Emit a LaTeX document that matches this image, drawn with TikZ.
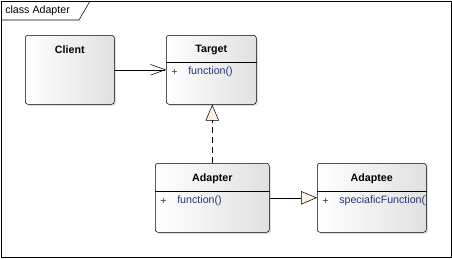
\documentclass[tikz,border=0pt]{standalone}
\usepackage{fontspec}
\setmainfont{Liberation Sans}
\usetikzlibrary{arrows.meta,calc,shadows}
\definecolor{cream}{RGB}{253,243,228}
\definecolor{opblue}{RGB}{40,52,120}
\definecolor{plusred}{RGB}{90,50,30}
\tikzset{
  classbox/.style={draw,rounded corners=2pt,anchor=north west,
    left color=white,right color=black!12,
    drop shadow={shadow xshift=1.2pt,shadow yshift=-1.2pt,opacity=0.25},
    minimum width=#1,minimum height=51.75pt,inner sep=0pt},
  cname/.style={font=\fontsize{8}{10}\selectfont\bfseries},
  opname/.style={font=\fontsize{8}{10}\selectfont,text=opblue,anchor=west,inner sep=0pt},
  plus/.style={font=\fontsize{8}{10}\selectfont,text=plusred,anchor=west,inner sep=0pt}
}
\begin{document}
\begin{tikzpicture}[x=0.75pt,y=-0.75pt]
  \useasboundingbox (0,0) rectangle (452,258);
  % frame
  \draw[fill=white] (1,1) rectangle (451,257);
  \draw (1,20) -- (79,20) -- (90,1);
  \node[font=\fontsize{8}{10}\selectfont,anchor=west,inner sep=0pt] (frametitle) at (5,11) {class Adapter};
  % classes
  \node[classbox=66.75pt] (client) at (25,35) {};
  \node[classbox=67.5pt] (target) at (166,35) {};
  \node[classbox=85.5pt] (adapter) at (155,163) {};
  \node[classbox=81.75pt] (adaptee) at (317,163) {};
  \draw ($(target.north west)+(0,27)$) -- ($(target.north east)+(0,27)$);
  \draw ($(adapter.north west)+(0,28)$) -- ($(adapter.north east)+(0,28)$);
  \draw ($(adaptee.north west)+(0,28)$) -- ($(adaptee.north east)+(0,28)$);
  \node[cname] (clientname) at ($(client.north)+(0,15)$) {Client};
  \node[cname] (targetname) at ($(target.north)+(0,15)$) {Target};
  \node[cname] (adaptername) at ($(adapter.north)+(0,16)$) {Adapter};
  \node[cname] (adapteename) at ($(adaptee.north)+(0,16)$) {Adaptee};
  \node[plus] (targetplus) at (171,72) {+};
  \node[opname] (targetop) at (188,72) {function()};
  \node[plus] (adapterplus) at (160,201) {+};
  \node[opname] (adapterop) at (177,201) {function()};
  \node[plus] (adapteeplus) at (322,201) {+};
  \begin{scope}
    \clip (adaptee.north west) rectangle ($(adaptee.south east)+(-1,0)$);
    \node[opname] (adapteeop) at (339,201) {speciaficFunction()};
  \end{scope}
  % connectors
  \draw[-{Straight Barb[length=11pt,width=8pt]}] (client.east) -- (target.west);
  \draw[dashed,dash pattern=on 4.5pt off 3pt,-{Triangle[open,length=12pt,width=10pt,fill=cream]}]
    (adapter.north) -- (adapter.north |- target.south);
  \draw[-{Triangle[open,length=12pt,width=10pt,fill=cream]}] (adapter.east) -- (adaptee.west);
\end{tikzpicture}
\end{document}
